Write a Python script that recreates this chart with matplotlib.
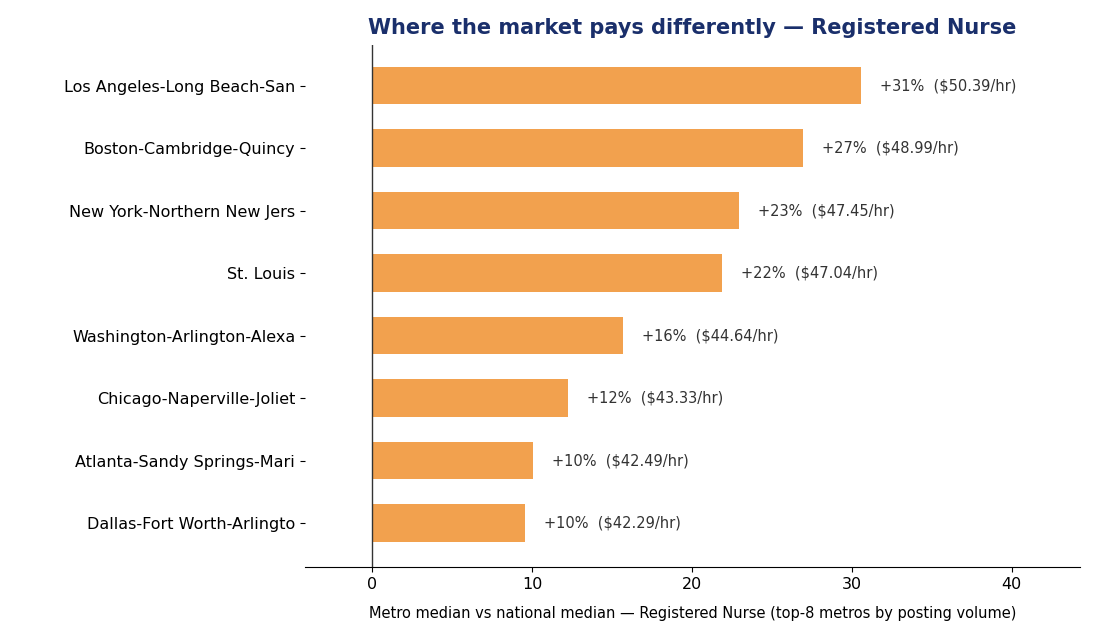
import matplotlib
matplotlib.use("Agg")
import matplotlib.pyplot as plt
plt.rcParams['font.family'] = ['DejaVu Sans']

metros = ["Los Angeles-Long Beach-San", "Boston-Cambridge-Quincy", "New York-Northern New Jers",
          "St. Louis", "Washington-Arlington-Alexa", "Chicago-Naperville-Joliet",
          "Atlanta-Sandy Springs-Mari", "Dallas-Fort Worth-Arlingto"]
premium = [30.56, 26.94, 22.94, 21.9, 15.7, 12.25, 10.06, 9.56]
pct_labels = ["+31%", "+27%", "+23%", "+22%", "+16%", "+12%", "+10%", "+10%"]
wages = [50.39, 48.99, 47.45, 47.04, 44.64, 43.33, 42.49, 42.29]

fig = plt.figure(figsize=(10.95, 6.44), dpi=100)
ax = fig.add_axes([0.2785, 0.1196, 0.7075, 0.8104])
y = list(range(len(metros)))[::-1]
ax.barh(y, premium, height=0.6, color="#f2a14e")
for yi, v, p, w in zip(y, premium, pct_labels, wages):
    ax.text(v + 1.2, yi, f"{p}  (${w:.2f}/hr)", va="center", ha="left", fontsize=10.5, color="#333333")
ax.axvline(0, color="#333333", lw=1)
ax.set_yticks(y)
ax.set_yticklabels(metros, fontsize=11.5)
ax.set_xlim(-4.2, 44.25)
ax.set_ylim(-0.7, 7.65)
ax.set_xticks([0, 10, 20, 30, 40])
ax.tick_params(axis="x", labelsize=11.5)
for s in ["top", "right", "left"]:
    ax.spines[s].set_visible(False)
ax.set_xlabel("Metro median vs national median — Registered Nurse (top-8 metros by posting volume)", fontsize=10.5, labelpad=10)
ax.set_title("Where the market pays differently — Registered Nurse", fontsize=15, fontweight="bold", color="#1a2f6b", pad=8)
fig.savefig("out.png", dpi=100)
